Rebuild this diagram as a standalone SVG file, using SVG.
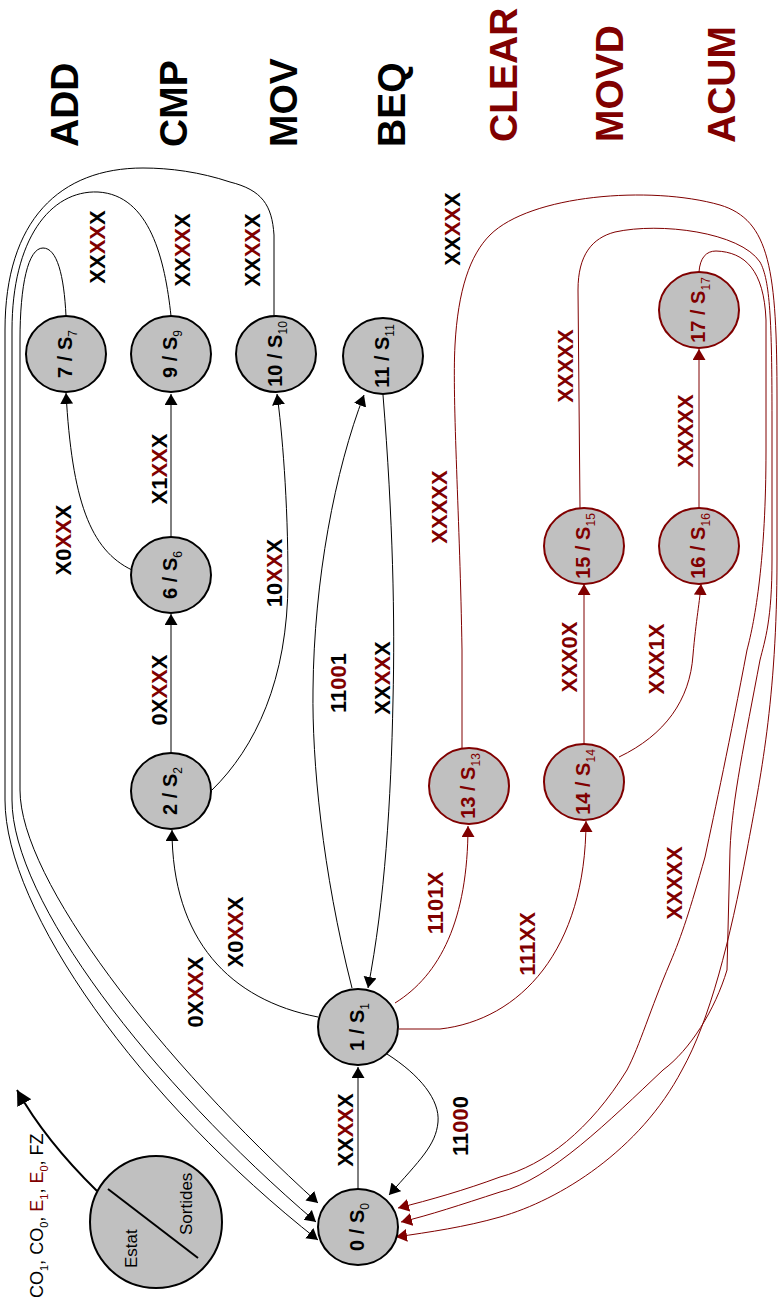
<svg xmlns="http://www.w3.org/2000/svg" width="778" height="1309" viewBox="0 0 778 1309">
<style>
.n{fill:#c0c0c0;stroke:#000;stroke-width:2}
.nr{fill:#c0c0c0;stroke:#800000;stroke-width:2}
.nt{font-family:"Liberation Sans",Arial,sans-serif;font-weight:bold;font-size:20px;text-anchor:middle;fill:#000}
.ntr{font-family:"Liberation Sans",Arial,sans-serif;font-weight:bold;font-size:20px;text-anchor:middle;fill:#800000}
.sub{font-size:12px;font-weight:normal}
.lb{font-family:"Liberation Sans",Arial,sans-serif;font-weight:bold;font-size:22px;text-anchor:middle;fill:#000}
.lbr{font-family:"Liberation Sans",Arial,sans-serif;font-weight:bold;font-size:22px;text-anchor:middle;fill:#800000}
.r{fill:#800000}
.tt{font-family:"Liberation Sans",Arial,sans-serif;font-weight:bold;font-size:39px;fill:#000}
.ttr{font-family:"Liberation Sans",Arial,sans-serif;font-weight:bold;font-size:39px;fill:#800000}
.lg{font-family:"Liberation Sans",Arial,sans-serif;font-size:17px;fill:#000}
.ck{fill:none;stroke:#000;stroke-width:1;marker-end:url(#ab)}
.cr{fill:none;stroke:#800000;stroke-width:1;marker-end:url(#ar)}
</style>
<defs>
<marker id="ab" markerUnits="userSpaceOnUse" markerWidth="12" markerHeight="14" refX="11" refY="6.5" orient="auto"><path d="M0,0 L11,6.5 L0,13 z" fill="#000"/></marker>
<marker id="ar" markerUnits="userSpaceOnUse" markerWidth="12" markerHeight="14" refX="11" refY="6.5" orient="auto"><path d="M0,0 L11,6.5 L0,13 z" fill="#800000"/></marker>
<marker id="al" markerUnits="userSpaceOnUse" markerWidth="16" markerHeight="18" refX="15" refY="8" orient="auto"><path d="M0,0 L15,8 L0,16 z" fill="#000"/></marker>
</defs>

<g id="titles">
<text class="tt" transform="translate(78,147) rotate(-90)">ADD</text>
<text class="tt" transform="translate(187,147) rotate(-90)">CMP</text>
<text class="tt" transform="translate(297,147) rotate(-90)">MOV</text>
<text class="tt" transform="translate(405,147) rotate(-90)">BEQ</text>
<text class="ttr" transform="translate(517,142) rotate(-90)">CLEAR</text>
<text class="ttr" transform="translate(623,142) rotate(-90)">MOVD</text>
<text class="ttr" transform="translate(735,143) rotate(-90)">ACUM</text>
</g>

<g id="connectors">
<path class="ck" d="M358,1189 L358,1067"/>
<path class="ck" d="M387,1054 C 420,1075 440,1100 438,1122 C 436,1145 420,1160 389,1195"/>
<path class="ck" d="M318,1017 C 230,1000 172,940 172,830"/>
<path class="ck" d="M171,753 L171,614"/>
<path class="ck" d="M212,790 C 255,748 288,680 288,580 C 288,500 282,430 277,394"/>
<path class="ck" d="M132,570 C 90,550 72,500 66,393"/>
<path class="ck" d="M171,537 L171,394"/>
<path class="ck" d="M352,988 C 322,870 312,760 313,690 C 314,580 335,470 364,395"/>
<path class="ck" d="M383,395 C 393,520 395,620 393,700 C 391,800 385,900 368,988"/>
<path class="ck" d="M66,316 C 64,275 57,248 43,248 C 28,248 20,285 20,340 L20,790 C 20,880 160,1060 318,1203"/>
<path class="ck" d="M171,316 C 165,260 150,195 98,192 C 50,190 12,240 12,330 L12,800 C 12,900 150,1080 316,1222"/>
<path class="ck" d="M274,316 L274,235 C 272,205 262,190 230,182 C 200,172 170,168 143,168 C 60,168 5,220 5,330 L5,800 C 5,910 140,1100 318,1240"/>
<path class="cr" d="M395,1003 C 440,975 468,920 468,826"/>
<path class="cr" d="M399,1029 L440,1029 C 520,1020 586,950 586,821"/>
<path class="cr" d="M584,744 L584,584"/>
<path class="cr" d="M619,757 C 665,735 690,700 693,655 C 696,620 700,600 701,584"/>
<path class="cr" d="M699,508 L699,349"/>
<path class="cr" d="M699,272 C 700,258 706,251 716,251 C 745,252 764,270 766,320 L766,450 C 766,560 755,620 747,650 C 730,740 715,810 705,857 C 690,910 682,935 670,963 C 650,1010 640,1045 627,1070 C 590,1130 545,1165 500,1177 C 465,1190 430,1200 398,1208"/>
<path class="cr" d="M580,508 L578,290 C 578,255 592,238 615,232 C 660,222 740,232 760,262 C 770,280 772,320 772,420 L772,560 C 772,620 765,640 760,660 C 745,740 732,800 730,850 L727,970 C 715,1010 690,1050 663,1070 C 610,1120 550,1180 500,1192 C 460,1205 430,1215 401,1222"/>
<path class="cr" d="M462,749 L462,650 C 460,520 452,400 455,345 C 458,290 470,255 490,235 C 530,195 650,185 720,205 C 770,220 777,270 777,400 L777,560 C 777,700 760,780 747,850 C 730,940 710,1020 682,1070 C 640,1150 560,1200 500,1217 C 465,1227 430,1232 396,1237"/>
</g>

<g id="labels">
<text class="lb" transform="translate(353,1130) rotate(-90)">XX<tspan class="r">XX</tspan>X</text>
<text class="lb" transform="translate(468,1126) rotate(-90)">11<tspan class="r">00</tspan>0</text>
<text class="lb" transform="translate(203,992) rotate(-90)">0X<tspan class="r">XX</tspan>X</text>
<text class="lb" transform="translate(243,932) rotate(-90)">X0<tspan class="r">XX</tspan>X</text>
<text class="lb" transform="translate(167,690) rotate(-90)">0X<tspan class="r">XX</tspan>X</text>
<text class="lb" transform="translate(282,573) rotate(-90)">10<tspan class="r">XX</tspan>X</text>
<text class="lb" transform="translate(71,540) rotate(-90)">X0<tspan class="r">XX</tspan>X</text>
<text class="lb" transform="translate(167,469) rotate(-90)">X1<tspan class="r">XX</tspan>X</text>
<text class="lb" transform="translate(346,683) rotate(-90)">11<tspan class="r">00</tspan>1</text>
<text class="lb" transform="translate(390,678) rotate(-90)">XX<tspan class="r">XX</tspan>X</text>
<text class="lb" transform="translate(105,247) rotate(-90)">XX<tspan class="r">XX</tspan>X</text>
<text class="lb" transform="translate(190,250) rotate(-90)">XX<tspan class="r">XX</tspan>X</text>
<text class="lb" transform="translate(260,250) rotate(-90)">XX<tspan class="r">XX</tspan>X</text>
<text class="lb" transform="translate(460,229) rotate(-90)">XX<tspan class="r">XX</tspan>X</text>
<text class="lbr" transform="translate(443,903) rotate(-90)">1101X</text>
<text class="lbr" transform="translate(535,944) rotate(-90)">111XX</text>
<text class="lbr" transform="translate(577,657) rotate(-90)">XXX0X</text>
<text class="lbr" transform="translate(664,659) rotate(-90)">XXX1X</text>
<text class="lbr" transform="translate(682,883) rotate(-90)">XXXXX</text>
<text class="lbr" transform="translate(447,507) rotate(-90)">XXXXX</text>
<text class="lbr" transform="translate(573,366) rotate(-90)">XXXXX</text>
<text class="lbr" transform="translate(693,431) rotate(-90)">XXXXX</text>
</g>

<g id="s0"><ellipse class="n" cx="358" cy="1227" rx="40" ry="38"/><text class="nt" transform="translate(364,1227) rotate(-90)">0 / S<tspan class="sub" dy="5">0</tspan></text></g>
<g id="s1"><ellipse class="n" cx="358" cy="1027" rx="40" ry="38"/><text class="nt" transform="translate(364,1027) rotate(-90)">1 / S<tspan class="sub" dy="5">1</tspan></text></g>
<g id="s2"><ellipse class="n" cx="171" cy="791" rx="40" ry="38"/><text class="nt" transform="translate(177,791) rotate(-90)">2 / S<tspan class="sub" dy="5">2</tspan></text></g>
<g id="s6"><ellipse class="n" cx="171" cy="575" rx="40" ry="38"/><text class="nt" transform="translate(177,575) rotate(-90)">6 / S<tspan class="sub" dy="5">6</tspan></text></g>
<g id="s7"><ellipse class="n" cx="66" cy="354" rx="40" ry="38"/><text class="nt" transform="translate(72,354) rotate(-90)">7 / S<tspan class="sub" dy="5">7</tspan></text></g>
<g id="s9"><ellipse class="n" cx="171" cy="354" rx="40" ry="38"/><text class="nt" transform="translate(177,354) rotate(-90)">9 / S<tspan class="sub" dy="5">9</tspan></text></g>
<g id="s10"><ellipse class="n" cx="276" cy="354" rx="40" ry="38"/><text class="nt" transform="translate(282,354) rotate(-90)">10 / S<tspan class="sub" dy="5">10</tspan></text></g>
<g id="s11"><ellipse class="n" cx="383" cy="356" rx="40" ry="38"/><text class="nt" transform="translate(389,356) rotate(-90)">11 / S<tspan class="sub" dy="5">11</tspan></text></g>
<g id="s13"><ellipse class="nr" cx="469" cy="786" rx="40" ry="38"/><text class="ntr" transform="translate(475,786) rotate(-90)">13 / S<tspan class="sub" dy="5">13</tspan></text></g>
<g id="s14"><ellipse class="nr" cx="584" cy="782" rx="40" ry="38"/><text class="ntr" transform="translate(590,782) rotate(-90)">14 / S<tspan class="sub" dy="5">14</tspan></text></g>
<g id="s15"><ellipse class="nr" cx="584" cy="546" rx="40" ry="38"/><text class="ntr" transform="translate(590,546) rotate(-90)">15 / S<tspan class="sub" dy="5">15</tspan></text></g>
<g id="s16"><ellipse class="nr" cx="699" cy="546" rx="40" ry="38"/><text class="ntr" transform="translate(705,546) rotate(-90)">16 / S<tspan class="sub" dy="5">16</tspan></text></g>
<g id="s17"><ellipse class="nr" cx="699" cy="310" rx="40" ry="38"/><text class="ntr" transform="translate(705,310) rotate(-90)">17 / S<tspan class="sub" dy="5">17</tspan></text></g>

<g id="legend">
<circle cx="156" cy="1222" r="66" class="n"/>
<line x1="108" y1="1189" x2="198" y2="1258" stroke="#000" stroke-width="2"/>
<text class="lg" transform="translate(137,1268) rotate(-90)">Estat</text>
<text class="lg" transform="translate(192,1235) rotate(-90)">Sortides</text>
<path d="M97,1191 Q 45,1140 17,1090" fill="none" stroke="#000" stroke-width="2" marker-end="url(#al)"/>
<text transform="translate(43,1298) rotate(-90)" font-family="Liberation Sans, Arial, sans-serif" font-size="18" fill="#000">CO<tspan font-size="11" dy="5">1</tspan><tspan dy="-5">, CO</tspan><tspan font-size="11" dy="5">0</tspan><tspan dy="-5">, </tspan><tspan fill="#800000">E</tspan><tspan font-size="11" dy="5" fill="#800000">1</tspan><tspan dy="-5">, </tspan><tspan fill="#800000">E</tspan><tspan font-size="11" dy="5" fill="#800000">0</tspan><tspan dy="-5">, FZ</tspan></text>
</g>
</svg>
